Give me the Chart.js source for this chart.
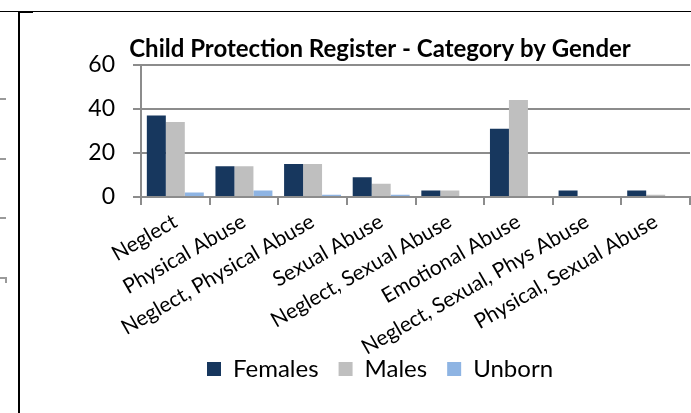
<!DOCTYPE html>
<html>
<head>
<meta charset="utf-8">
<script src="https://cdn.jsdelivr.net/npm/chart.js@4.4.1/dist/chart.umd.min.js"></script>
<style>
    html, body { margin: 0; padding: 0; background: #fff; }
    #wrap { position: relative; width: 691px; height: 413px; overflow: hidden; }
    #grafico { position: absolute; left: 0; top: 0; }
    .linea { position: absolute; background: #000; }
    .marca { position: absolute; background: #9a9a9a; }
</style>
</head>
<body>
<div id="wrap">
    <canvas id="grafico" width="691" height="413"></canvas>
    <!-- restos del marco del documento original -->
    <div class="linea" style="left:0;top:11px;width:691px;height:1px;"></div>
    <div class="linea" style="left:18px;top:11px;width:15px;height:2px;"></div>
    <div class="linea" style="left:18px;top:11px;width:2px;height:402px;"></div>
    <div class="marca" style="left:0;top:98px;width:6px;height:2px;"></div>
    <div class="marca" style="left:0;top:158px;width:6px;height:2px;"></div>
    <div class="marca" style="left:0;top:217px;width:6px;height:2px;"></div>
    <div class="marca" style="left:0;top:277px;width:6px;height:2px;"></div>
    <div class="marca" style="left:5px;top:277px;width:2px;height:6px;"></div>
</div>
<script>
// Datos del gráfico
const categorias = ['Neglect', 'Physical Abuse', 'Neglect, Physical Abuse', 'Sexual Abuse',
    'Neglect, Sexual Abuse', 'Emotional Abuse', 'Neglect, Sexual, Phys Abuse', 'Physical, Sexual Abuse'];
const mujeres = [37, 14, 15, 9, 3, 31, 3, 3];
const hombres = [34, 14, 15, 6, 3, 44, 0, 1];
const nonatos = [2, 3, 1, 1, 0, 0, 0, 0];
const ticksY = [0, 20, 40, 60];

const fuente = 'Lato, "Open Sans", sans-serif';
const gris = '#8c8c8c';

// Evitar que las etiquetas largas del eje X se recorten contra la leyenda
const sinRecorte = {
    id: 'sinRecorte',
    beforeDraw(chart) {
        chart.scales.x.bottom = chart.height;
    }
};

new Chart(document.getElementById('grafico'), {
    type: 'bar',
    data: {
        labels: categorias,
        datasets: [
            { label: 'Females', data: mujeres, backgroundColor: '#17375E' },
            { label: 'Males', data: hombres, backgroundColor: '#BFBFBF' },
            { label: 'Unborn', data: nonatos, backgroundColor: '#8EB4E3' }
        ]
    },
    plugins: [sinRecorte],
    options: {
        responsive: false,
        animation: false,
        layout: { padding: { left: 70, right: 1, top: 0, bottom: 22 } },
        datasets: { bar: { categoryPercentage: 0.83, barPercentage: 1 } },
        plugins: {
            title: {
                display: true,
                text: 'Child Protection Register - Category by Gender',
                color: '#000',
                font: { family: fuente, size: 24, weight: 'bold', lineHeight: 1.2 },
                padding: { top: 35, bottom: 1 }
            },
            legend: {
                position: 'bottom',
                labels: {
                    color: '#000',
                    font: { family: fuente, size: 24 },
                    boxWidth: 14,
                    boxHeight: 14,
                    padding: 20
                }
            },
            tooltip: { enabled: false }
        },
        scales: {
            x: {
                afterFit: (escala) => { escala.height = 140; },
                grid: { display: true, drawOnChartArea: false, color: gris, lineWidth: 2, tickLength: 8, offset: true },
                border: { color: gris, width: 2 },
                ticks: {
                    color: '#000',
                    font: { family: fuente, size: 21 },
                    minRotation: 30,
                    maxRotation: 30,
                    autoSkip: false,
                    padding: 4
                }
            },
            y: {
                min: 0,
                max: 60,
                afterFit: (escala) => { escala.width = 71; },
                afterBuildTicks: (escala) => { escala.ticks = ticksY.map(v => ({ value: v })); },
                grid: { color: gris, lineWidth: 2, tickLength: 8 },
                border: { color: gris, width: 2 },
                ticks: {
                    color: '#000',
                    font: { family: fuente, size: 23 },
                    padding: 18
                }
            }
        }
    }
});
</script>
</body>
</html>
